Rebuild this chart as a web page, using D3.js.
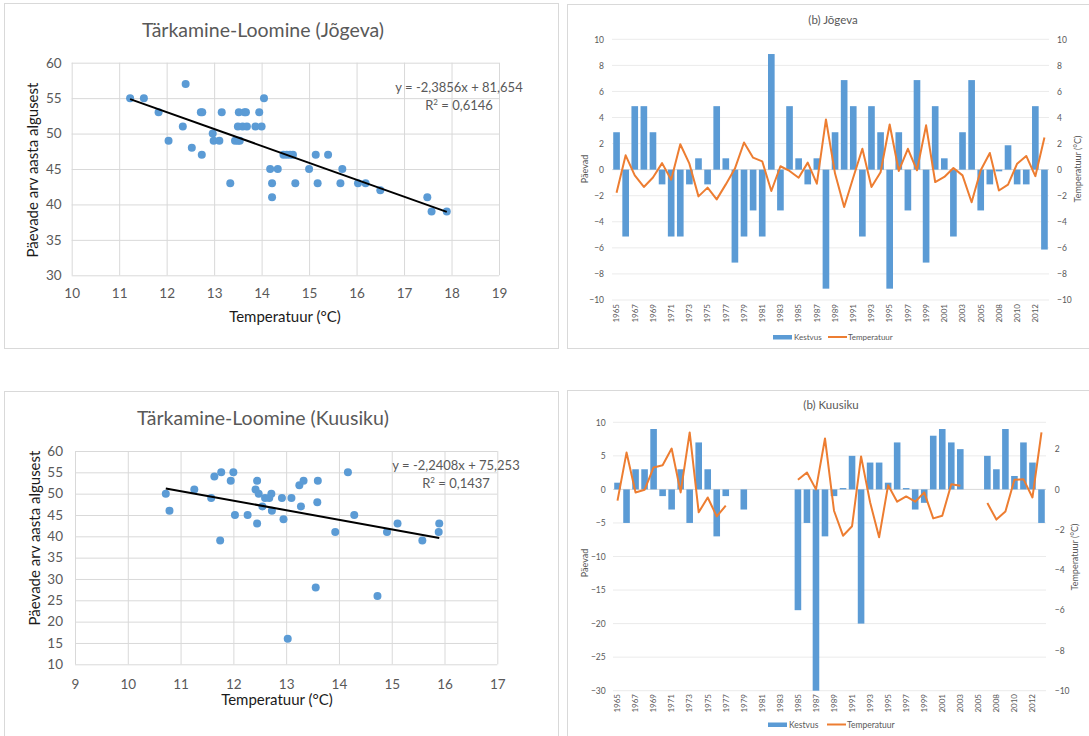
<!DOCTYPE html>
<html>
<head>
<meta charset="utf-8">
<script src="https://cdn.jsdelivr.net/npm/d3@7"></script>
<style>
body { margin: 0; background: #fff; }
text { font-family: Lato, "Open Sans", sans-serif; }
</style>
</head>
<body>
<svg id="chart" width="1089" height="736"></svg>
<script>
// hajuvusdiagrammid: temperatuur vs päevade arv
const jogX = [11.23,11.52,11.83,12.04,12.34,12.40,12.53,12.72,12.75,12.74,12.97,12.99,13.11,13.16,13.34,13.44,13.50,13.54,13.50,13.52,13.60,13.64,13.67,13.69,13.87,13.95,14.00,14.05,14.18,14.22,14.22,14.34,14.46,14.53,14.60,14.66,14.71,15.00,15.14,15.18,15.40,15.66,15.70,16.03,16.19,16.50,17.49,17.58,17.90];
const jogY = [55,55,53,49,51,57,48,53,53,47,50,49,49,53,43,49,49,49,51,53,51,53,53,51,51,53,51,55,45,43,41,45,47,47,47,47,43,45,47,43,47,43,45,43,43,42,41,39,39];
const jogTrend = [-2.3856, 81.654, 0.6146];

const kuuX = [10.72,10.79,11.26,11.58,11.64,11.77,11.75,11.95,12.00,12.03,12.27,12.42,12.45,12.48,12.45,12.55,12.60,12.68,12.72,12.73,12.92,12.95,13.03,13.10,13.25,13.33,13.28,13.56,13.59,13.60,13.93,14.17,14.29,14.73,14.91,15.11,15.58,15.90,15.89];
const kuuY = [50,46,51,49,54,55,39,53,55,45,45,51,53,50,43,47,49,49,50,46,49,44,16,49,52,53,47,28,48,53,41,55,45,26,41,43,39,43,41];
const kuuTrend = [-2.2408, 75.253, 0.1437];

const jogXTicks = [10,11,12,13,14,15,16,17,18,19];
const jogYTicks = [30,35,40,45,50,55,60];
const kuuXTicks = [9,10,11,12,13,14,15,16,17];
const kuuYTicks = [10,15,20,25,30,35,40,45,50,55,60];

// aastad (kõrvalekalded)
const years = [1965,1966,1967,1968,1969,1970,1971,1972,1973,1974,1975,1976,1977,1978,1979,1980,1981,1982,1983,1984,1985,1986,1987,1988,1989,1990,1991,1992,1993,1994,1995,1996,1997,1998,1999,2000,2001,2002,2003,2004,2005,2007,2008,2009,2010,2011,2012,2013];
const yearLabels = [1965,1967,1969,1971,1973,1975,1977,1979,1981,1983,1985,1987,1989,1991,1993,1995,1997,1999,2001,2003,2005,2008,2010,2012];

const jogKestvus = [2.87,-5.13,4.87,4.87,2.87,-1.13,-5.13,-5.13,-1.13,0.87,-1.13,4.87,0.87,-7.13,-5.13,-3.13,-5.13,8.87,-3.13,4.87,0.87,-1.13,0.87,-9.13,
  2.87,6.87,4.87,-5.13,4.87,2.87,-9.13,2.87,-3.13,6.87,-7.13,4.87,0.87,-5.13,2.87,6.87,-3.13,-1.13,-0.13,1.87,-1.13,-1.13,4.87,-6.13];
const jogTemperatuur = [-1.77,1.1,-0.44,-1.33,-0.6,0.5,-0.77,1.95,0.46,-2.05,-1.38,-2.28,-1.13,0.08,2.08,0.92,0.64,-1.64,0.26,-0.1,-0.62,0.54,-1.08,3.85,
  -0.3,-2.87,-0.6,1.6,-1.33,-0.2,3.46,-0.1,1.6,-0.05,3.4,-0.95,-0.56,0.13,-0.44,-2.5,-0.05,1.28,-1.6,-1.15,0.46,1.05,-0.5,2.46];

const kuuKestvus = [1,-5,3,3,9,-1,-3,3,-5,7,3,-7,-1,null,-3,null,null,null,null,null,-18,-5,-30,-7,
  -1,0.2,5,-20,4,4,1,7,0.2,-3,-2,8,9,7,6,null,null,5,3,9,2,7,4,-5];
const kuuTemperatuur = [-0.56,1.83,-0.15,-0.02,1.09,1.2,2.03,-0.15,2.83,-1.14,-0.4,-1.34,-0.81,null,null,null,null,null,null,null,0.48,0.84,0,2.53,
  -1.06,-2.3,-1.83,1.64,-0.64,-2.38,0.21,-0.61,-0.35,-0.61,-0.15,-1.44,-1.31,0.26,0.18,null,null,-0.68,-1.5,-1.1,0.48,0.51,-0.4,2.83];

const jogLeftTicks = [-10,-8,-6,-4,-2,0,2,4,6,8,10];
const jogRightTicks = [-10,-8,-6,-4,-2,0,2,4,6,8,10];
const kuuLeftTicks = [-30,-25,-20,-15,-10,-5,0,5,10];
const kuuRightTicks = [-10,-8,-6,-4,-2,0,2];

const BLUE = '#5b9bd5', ORANGE = '#ed7d31', GREY = '#595959';
const svg = d3.select('#chart');
svg.append('rect').attr('width', 1089).attr('height', 736).attr('fill', '#fff');

function fmt(v) { return String(v).replace('.', ','); }

function scatter(c) {
    const g = svg.append('g');
    g.append('rect').attr('x', c.frame[0] + 0.5).attr('y', c.frame[1] + 0.5)
        .attr('width', c.frame[2]).attr('height', c.frame[3])
        .attr('fill', 'none').attr('stroke', '#d9d9d9');

    const x = d3.scaleLinear().domain(d3.extent(c.xTicks)).range([c.L, c.R]);
    const y = d3.scaleLinear().domain(d3.extent(c.yTicks)).range([c.B, c.T]);

    const gx = g.append('g').attr('transform', `translate(0,${c.B})`)
        .call(d3.axisBottom(x).tickValues(c.xTicks).tickSize(-(c.B - c.T)));
    gx.selectAll('text').attr('y', c.xLabOff).attr('dy', null);
    const gy = g.append('g').attr('transform', `translate(${c.L},0)`)
        .call(d3.axisLeft(y).tickValues(c.yTicks).tickSize(-(c.R - c.L)).tickPadding(c.yLabPad));
    [gx, gy].forEach(a => {
        a.select('.domain').remove();
        a.selectAll('line').attr('stroke', '#d9d9d9');
        a.selectAll('text').attr('fill', GREY).style('font-size', '13.5px')
            .style('font-family', 'Lato, sans-serif');
    });

    g.selectAll('.dot').data(c.xs.map((v, i) => [v, c.ys[i]])).enter().append('circle')
        .attr('cx', d => x(d[0])).attr('cy', d => y(d[1])).attr('r', 4)
        .attr('fill', BLUE);

    const x0 = d3.min(c.xs), x1 = d3.max(c.xs);
    const a = c.trend[0], b = c.trend[1];
    g.append('line').attr('x1', x(x0)).attr('y1', y(a * x0 + b))
        .attr('x2', x(x1)).attr('y2', y(a * x1 + b))
        .attr('stroke', '#000').attr('stroke-width', 2);

    g.append('text').attr('x', c.eq[0]).attr('y', c.eq[1]).attr('text-anchor', 'middle')
        .attr('fill', GREY).style('font-size', '13px')
        .text(`y = ${fmt(a)}x + ${fmt(b)}`);
    const r2 = g.append('text').attr('x', c.eq[0]).attr('y', c.eq[1] + 18).attr('text-anchor', 'middle')
        .attr('fill', GREY).style('font-size', '13px');
    r2.append('tspan').text('R');
    r2.append('tspan').attr('dy', -5).style('font-size', '8px').text('2');
    r2.append('tspan').attr('dy', 5).text(' = ' + fmt(c.trend[2]));

    g.append('text').attr('x', c.title[0]).attr('y', c.title[1]).attr('text-anchor', 'middle')
        .attr('fill', GREY).style('font-size', '19.5px').text(c.titleText);
    g.append('text').attr('transform', `translate(${c.yTitle[0]},${c.yTitle[1]}) rotate(-90)`)
        .attr('text-anchor', 'middle').attr('fill', '#1a1a1a').style('font-size', '15px')
        .text('Päevade arv aasta algusest');
    g.append('text').attr('x', c.xTitle[0]).attr('y', c.xTitle[1]).attr('text-anchor', 'middle')
        .attr('fill', '#1a1a1a').style('font-size', '15px').text('Temperatuur (°C)');
}

function combo(c) {
    const g = svg.append('g');
    g.append('rect').attr('x', c.frame[0] + 0.5).attr('y', c.frame[1] + 0.5)
        .attr('width', c.frame[2]).attr('height', c.frame[3])
        .attr('fill', 'none').attr('stroke', '#d9d9d9');

    const x = d3.scaleBand().domain(years).range([c.L, c.R]).paddingInner(0.27).paddingOuter(0.135);
    const yl = d3.scaleLinear().domain(d3.extent(c.leftTicks)).range([c.B, c.T]);
    const yr = d3.scaleLinear().domain(c.rightDom).range([c.B, c.T]);

    g.append('g').selectAll('line').data(c.leftTicks).enter().append('line')
        .attr('x1', c.L).attr('x2', c.R).attr('y1', d => yl(d)).attr('y2', d => yl(d))
        .attr('stroke', d => d === 0 ? '#d9d9d9' : '#ebebeb');

    const gl = g.append('g').attr('transform', `translate(${c.lLabX},0)`)
        .call(d3.axisLeft(yl).tickValues(c.leftTicks).tickSize(0).tickPadding(0));
    const gr = g.append('g').attr('transform', `translate(${c.rLabX},0)`)
        .call(d3.axisRight(yr).tickValues(c.rightTicks).tickSize(0).tickPadding(0));
    [gl, gr].forEach(a => {
        a.select('.domain').remove();
        a.selectAll('text').attr('fill', GREY).style('font-size', '8.5px')
            .style('font-family', 'Lato, sans-serif');
    });

    const gx = g.append('g').attr('transform', `translate(0,${c.xLabY})`)
        .call(d3.axisBottom(x).tickValues(yearLabels).tickSize(0).tickPadding(0));
    gx.select('.domain').remove();
    gx.selectAll('text').attr('transform', 'rotate(-90)').attr('text-anchor', 'end')
        .attr('x', 0).attr('y', 0).attr('dy', '0.35em')
        .attr('fill', GREY).style('font-size', '8px').style('font-family', 'Lato, sans-serif');

    const data = years.map((yr0, i) => ({ year: yr0, k: c.kestvus[i], t: c.temp[i] }));
    g.append('g').selectAll('rect').data(data.filter(d => d.k != null)).enter().append('rect')
        .attr('x', d => x(d.year)).attr('width', x.bandwidth())
        .attr('y', d => yl(Math.max(0, d.k)))
        .attr('height', d => Math.abs(yl(d.k) - yl(0)))
        .attr('fill', BLUE);

    const line = d3.line().defined(d => d.t != null)
        .x(d => x(d.year) + x.bandwidth() / 2).y(d => yr(d.t));
    g.append('path').datum(data).attr('d', line).attr('fill', 'none')
        .attr('stroke', ORANGE).attr('stroke-width', 2).attr('stroke-linejoin', 'round');

    g.append('text').attr('x', c.title[0]).attr('y', c.title[1]).attr('text-anchor', 'middle')
        .attr('fill', GREY).style('font-size', '11.5px').text(c.titleText);
    g.append('text').attr('transform', `translate(${c.lTitle[0]},${c.lTitle[1]}) rotate(-90)`)
        .attr('text-anchor', 'middle').attr('fill', GREY).style('font-size', '9px').text('Päevad');
    g.append('text').attr('transform', `translate(${c.rTitle[0]},${c.rTitle[1]}) rotate(-90)`)
        .attr('text-anchor', 'middle').attr('fill', GREY).style('font-size', '9px').text('Temperatuur (°C)');

    // legend: [rect x, line x, y, font size]
    const [rx, lx, ly, fs] = c.legend;
    const lg = g.append('g');
    lg.append('rect').attr('x', rx).attr('y', ly - 2).attr('width', 19).attr('height', 4.5).attr('fill', BLUE);
    lg.append('text').attr('x', rx + 21).attr('y', ly + 3).attr('fill', GREY).style('font-size', fs + 'px').text('Kestvus');
    lg.append('line').attr('x1', lx).attr('x2', lx + 19).attr('y1', ly).attr('y2', ly)
        .attr('stroke', ORANGE).attr('stroke-width', 2);
    lg.append('text').attr('x', lx + 20).attr('y', ly + 3).attr('fill', GREY).style('font-size', fs + 'px').text('Temperatuur');
}

scatter({
    frame: [4, 3, 554, 345], L: 71.7, R: 499, T: 62.7, B: 275.3,
    xTicks: jogXTicks, yTicks: jogYTicks, xs: jogX, ys: jogY, trend: jogTrend,
    xLabOff: 22.7, yLabPad: 10, eq: [459, 92], title: [263, 37],
    titleText: 'Tärkamine-Loomine (Jõgeva)', yTitle: [38, 170], xTitle: [285, 322]
});
scatter({
    frame: [4, 391, 554, 360], L: 75, R: 497.3, T: 451, B: 664.3,
    xTicks: kuuXTicks, yTicks: kuuYTicks, xs: kuuX, ys: kuuY, trend: kuuTrend,
    xLabOff: 24.5, yLabPad: 12, eq: [456, 470], title: [263, 425],
    titleText: 'Tärkamine-Loomine (Kuusiku)', yTitle: [40, 538], xTitle: [277, 705]
});
combo({
    frame: [567, 4, 530, 344], L: 612, R: 1049, T: 39.3, B: 300,
    leftTicks: jogLeftTicks, rightTicks: jogRightTicks, rightDom: [-10, 10],
    kestvus: jogKestvus, temp: jogTemperatuur,
    lLabX: 604, rLabX: 1057, xLabY: 304, title: [833, 24], titleText: '(b) Jõgeva',
    lTitle: [588, 169], rTitle: [1081, 169], legend: [773, 828, 337, 8]
});
combo({
    frame: [567, 390, 530, 360], L: 613, R: 1046, T: 422.3, B: 690.7,
    leftTicks: kuuLeftTicks, rightTicks: kuuRightTicks, rightDom: [-10, 10 / 3],
    kestvus: kuuKestvus, temp: kuuTemperatuur,
    lLabX: 605.7, rLabX: 1054.7, xLabY: 694, title: [831, 409], titleText: '(b) Kuusiku',
    lTitle: [588, 563], rTitle: [1078, 557], legend: [768, 827, 724.5, 8.5]
});
</script>
</body>
</html>
